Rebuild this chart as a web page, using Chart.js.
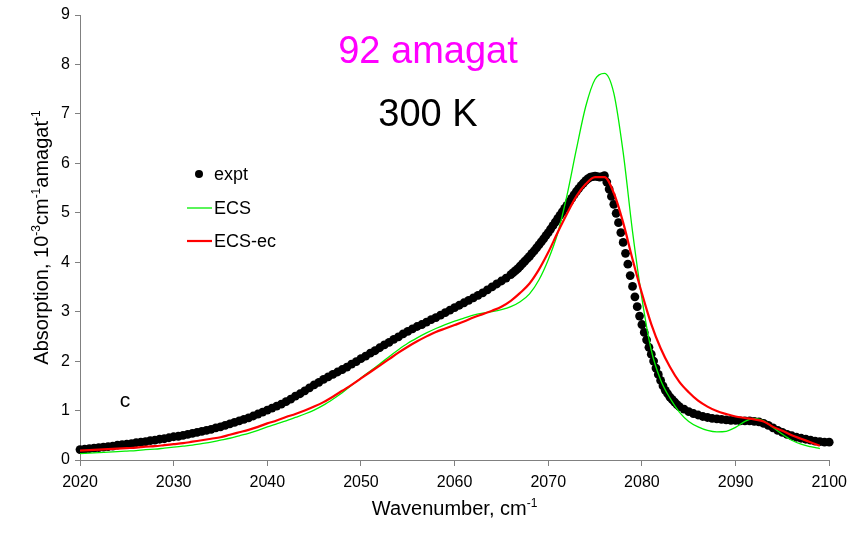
<!DOCTYPE html>
<html>
<head>
<meta charset="utf-8">
<title>Absorption, 92 amagat, 300 K</title>
<script src="https://cdn.jsdelivr.net/npm/chart.js@4.4.0/dist/chart.umd.min.js"></script>
<style>
    html, body { margin: 0; padding: 0; background: #fff; }
    #wrap { width: 854px; height: 533px; }
</style>
</head>
<body>
<div id="wrap"><canvas id="absChart" width="854" height="533"></canvas></div>
<script>
// measured spectrum (wavenumber, cm-1)
const exptWave = [
    2020, 2020.5, 2021, 2021.5, 2022, 2022.5, 2023, 2023.5, 2024, 2024.5,
    2025, 2025.5, 2026, 2026.5, 2027, 2027.5, 2028, 2028.5, 2029, 2029.5,
    2030, 2030.5, 2031, 2031.5, 2032, 2032.5, 2033, 2033.5, 2034, 2034.5,
    2035, 2035.5, 2036, 2036.5, 2037, 2037.5, 2038, 2038.5, 2039, 2039.5,
    2040, 2040.5, 2041, 2041.5, 2042, 2042.5, 2043, 2043.5, 2044, 2044.5,
    2045, 2045.5, 2046, 2046.5, 2047, 2047.5, 2048, 2048.5, 2049, 2049.5,
    2050, 2050.5, 2051, 2051.5, 2052, 2052.5, 2053, 2053.5, 2054, 2054.5,
    2055, 2055.5, 2056, 2056.5, 2057, 2057.5, 2058, 2058.5, 2059, 2059.5,
    2060, 2060.5, 2061, 2061.5, 2062, 2062.5, 2063, 2063.5, 2064, 2064.5,
    2065, 2065.5,
    2066, 2066.25, 2066.5, 2066.75, 2067, 2067.25, 2067.5, 2067.75,
    2068, 2068.25, 2068.5, 2068.75, 2069, 2069.25, 2069.5, 2069.75,
    2070, 2070.25, 2070.5, 2070.75, 2071, 2071.25, 2071.5, 2071.75,
    2072, 2072.25, 2072.5, 2072.75, 2073, 2073.25, 2073.5, 2073.75,
    2074, 2074.25, 2074.5, 2074.75, 2075, 2075.25, 2075.5, 2075.75,
    2076, 2076.25, 2076.5, 2076.75, 2077, 2077.25, 2077.5, 2077.75,
    2078, 2078.25, 2078.5, 2078.75, 2079, 2079.25, 2079.5, 2079.75,
    2080, 2080.25, 2080.5, 2080.75, 2081, 2081.25, 2081.5, 2081.75,
    2082, 2082.25, 2082.5, 2082.75, 2083, 2083.25, 2083.5, 2083.75,
    2084,
    2084.5, 2085, 2085.5, 2086, 2086.5, 2087, 2087.5, 2088, 2088.5, 2089,
    2089.5, 2090, 2090.5, 2091, 2091.5, 2092, 2092.5, 2093, 2093.5, 2094,
    2094.5, 2095, 2095.5, 2096, 2096.5, 2097, 2097.5, 2098, 2098.5, 2099,
    2099.5, 2100
];
const exptAbs = [
    0.21, 0.22, 0.23, 0.24, 0.25, 0.26, 0.27, 0.28, 0.30, 0.31,
    0.32, 0.33, 0.35, 0.36, 0.37, 0.39, 0.40, 0.42, 0.43, 0.45,
    0.47, 0.48, 0.50, 0.52, 0.54, 0.56, 0.58, 0.60, 0.62, 0.65,
    0.67, 0.70, 0.73, 0.76, 0.79, 0.82, 0.85, 0.89, 0.93, 0.97,
    1.01, 1.05, 1.09, 1.13, 1.18, 1.23, 1.29, 1.34, 1.40, 1.46,
    1.52, 1.57, 1.63, 1.68, 1.73, 1.78, 1.83, 1.88, 1.94, 1.99,
    2.05, 2.10, 2.16, 2.21, 2.27, 2.33, 2.38, 2.44, 2.49, 2.55,
    2.60, 2.65, 2.70, 2.74, 2.79, 2.84, 2.88, 2.93, 2.98, 3.03,
    3.08, 3.13, 3.18, 3.23, 3.28, 3.33, 3.38, 3.44, 3.50, 3.56,
    3.62, 3.68,
    3.75, 3.79, 3.83, 3.87, 3.92, 3.97, 4.02, 4.07,
    4.12, 4.18, 4.23, 4.29, 4.35, 4.41, 4.47, 4.54,
    4.60, 4.67, 4.74, 4.81, 4.88, 4.95, 5.02, 5.09,
    5.15, 5.22, 5.29, 5.36, 5.43, 5.49, 5.55, 5.60,
    5.65, 5.69, 5.72, 5.73, 5.74, 5.73, 5.72, 5.73,
    5.75, 5.62, 5.48, 5.33, 5.17, 4.99, 4.80, 4.60,
    4.40, 4.18, 3.96, 3.73, 3.51, 3.30, 3.10, 2.91,
    2.74, 2.58, 2.43, 2.28, 2.14, 2.00, 1.86, 1.73,
    1.61, 1.50, 1.41, 1.34, 1.27, 1.22, 1.17, 1.12,
    1.08,
    1.03, 0.98, 0.94, 0.91, 0.88, 0.86, 0.84, 0.83, 0.82, 0.81,
    0.80, 0.80, 0.79, 0.79, 0.79, 0.78, 0.77, 0.74, 0.70, 0.65,
    0.60, 0.56, 0.52, 0.49, 0.46, 0.44, 0.42, 0.40, 0.38, 0.37,
    0.36, 0.36
];

// calculated line shapes
const modelWave = [
    2020, 2021, 2022, 2023, 2024, 2025, 2026, 2027, 2028, 2029,
    2030, 2031, 2032, 2033, 2034, 2035, 2036, 2037, 2038, 2039,
    2040, 2041, 2042, 2043, 2044, 2045, 2046, 2047, 2048, 2049,
    2050, 2051, 2052, 2053, 2054, 2055, 2056, 2057, 2058, 2059,
    2060, 2061, 2062, 2063, 2064, 2065, 2066, 2067, 2068, 2069,
    2070, 2071, 2072, 2073, 2074, 2075, 2076, 2077, 2078, 2079,
    2080, 2081, 2082, 2083, 2084, 2085, 2086, 2087, 2088, 2089,
    2090, 2091, 2092, 2093, 2094, 2095, 2096, 2097, 2098, 2099
];
const ecsAbs = [
    0.13, 0.14, 0.15, 0.16, 0.17, 0.18, 0.19, 0.21, 0.22, 0.24,
    0.26, 0.28, 0.30, 0.33, 0.36, 0.40, 0.44, 0.49, 0.54, 0.60,
    0.67, 0.73, 0.79, 0.86, 0.93, 1.01, 1.11, 1.23, 1.36, 1.51,
    1.66, 1.80, 1.94, 2.09, 2.23, 2.36, 2.47, 2.57, 2.66, 2.74,
    2.81, 2.87, 2.93, 2.97, 3.00, 3.04, 3.10, 3.20, 3.36, 3.64,
    4.05, 4.58, 5.35, 6.28, 7.15, 7.70, 7.82, 7.42, 6.22, 4.62,
    3.27, 2.22, 1.62, 1.25, 0.97, 0.78, 0.67, 0.60, 0.57, 0.58,
    0.66, 0.78, 0.84, 0.79, 0.66, 0.52, 0.40, 0.32, 0.27, 0.23
];
const ecsEcAbs = [
    0.19, 0.20, 0.21, 0.22, 0.23, 0.24, 0.25, 0.27, 0.28, 0.30,
    0.32, 0.34, 0.37, 0.40, 0.43, 0.46, 0.51, 0.56, 0.61, 0.67,
    0.74, 0.80, 0.87, 0.93, 1.00, 1.08, 1.17, 1.28, 1.40, 1.52,
    1.65, 1.78, 1.91, 2.04, 2.17, 2.29, 2.40, 2.50, 2.59, 2.66,
    2.73, 2.80, 2.88, 2.95, 3.02, 3.10, 3.22, 3.38, 3.57, 3.85,
    4.20, 4.60, 4.98, 5.33, 5.58, 5.72, 5.72, 5.40, 4.80, 4.06,
    3.37, 2.75, 2.26, 1.88, 1.58, 1.37, 1.20, 1.08, 0.99, 0.93,
    0.88, 0.85, 0.82, 0.78, 0.67, 0.59, 0.50, 0.43, 0.36, 0.29
];

const xTickValues = [2020, 2030, 2040, 2050, 2060, 2070, 2080, 2090, 2100];
const yTickValues = [0, 1, 2, 3, 4, 5, 6, 7, 8, 9];

const FONT = "'Liberation Sans', Arial, sans-serif";
const AXIS_GREY = '#808080';

function toPoints(xs, ys) {
    return xs.map((x, i) => ({x: x, y: ys[i]}));
}

// text with raised exponents, centred on x
function drawRich(ctx, parts, x, y, size) {
    const supSize = Math.round(size * 0.62);
    let total = 0;
    parts.forEach(p => {
        ctx.font = (p[1] ? supSize : size) + 'px ' + FONT;
        total += ctx.measureText(p[0]).width;
    });
    let cx = x - total / 2;
    ctx.textAlign = 'left';
    ctx.textBaseline = 'alphabetic';
    parts.forEach(p => {
        ctx.font = (p[1] ? supSize : size) + 'px ' + FONT;
        ctx.fillText(p[0], cx, p[1] ? y - size * 0.42 : y);
        cx += ctx.measureText(p[0]).width;
    });
}

const labelsPlugin = {
    id: 'panelLabels',
    afterDraw(chart) {
        const ctx = chart.ctx;
        const area = chart.chartArea;
        const midX = (area.left + area.right) / 2;
        const midY = (area.top + area.bottom) / 2;
        ctx.save();
        ctx.fillStyle = '#000';

        // axis titles
        drawRich(ctx, [['Wavenumber, cm', false], ['-1', true]], midX, 515, 20);
        ctx.save();
        ctx.translate(48, midY);
        ctx.rotate(-Math.PI / 2);
        drawRich(ctx, [
            ['Absorption, 10', false], ['-3', true],
            ['cm', false], ['-1', true],
            ['amagat', false], ['-1', true]
        ], 0, 0, 20);
        ctx.restore();

        // density / temperature headings
        ctx.textAlign = 'center';
        ctx.textBaseline = 'alphabetic';
        ctx.font = '38px ' + FONT;
        ctx.fillStyle = '#ff00ff';
        ctx.fillText('92 amagat', 428, 63);
        ctx.fillStyle = '#000';
        ctx.fillText('300 K', 428, 126);

        ctx.font = '21px ' + FONT;
        ctx.fillText('c', 125, 407);

        // legend
        const ds = chart.data.datasets;
        const rows = [174, 208, 241];
        ctx.font = '18px ' + FONT;
        ctx.textAlign = 'left';
        ctx.textBaseline = 'middle';
        ds.forEach((d, i) => {
            const y = rows[i];
            if (d.showLine === false) {
                ctx.fillStyle = d.backgroundColor;
                ctx.beginPath();
                ctx.arc(199, y, 4, 0, Math.PI * 2);
                ctx.fill();
            } else {
                ctx.strokeStyle = d.borderColor;
                ctx.lineWidth = d.borderWidth;
                ctx.beginPath();
                ctx.moveTo(187, y);
                ctx.lineTo(212, y);
                ctx.stroke();
            }
            ctx.fillStyle = '#000';
            ctx.fillText(d.label, 214, y + 1);
        });
        ctx.restore();
    }
};

const ctx = document.getElementById('absChart').getContext('2d');
new Chart(ctx, {
    type: 'line',
    data: {
        datasets: [
            {
                label: 'expt',
                data: toPoints(exptWave, exptAbs),
                showLine: false,
                pointRadius: 4.4,
                pointBorderWidth: 0,
                backgroundColor: '#000000',
                pointBackgroundColor: '#000000',
                order: 3
            },
            {
                label: 'ECS',
                data: toPoints(modelWave, ecsAbs),
                borderColor: '#00ee00',
                borderWidth: 1.3,
                pointRadius: 0,
                cubicInterpolationMode: 'monotone',
                fill: false,
                order: 2
            },
            {
                label: 'ECS-ec',
                data: toPoints(modelWave, ecsEcAbs),
                borderColor: '#ff0000',
                borderWidth: 2.2,
                pointRadius: 0,
                cubicInterpolationMode: 'monotone',
                fill: false,
                order: 1
            }
        ]
    },
    options: {
        responsive: false,
        animation: false,
        clip: false,
        layout: {padding: {left: 25, right: 21, top: 15, bottom: 0}},
        plugins: {
            legend: {display: false},
            tooltip: {enabled: false}
        },
        scales: {
            x: {
                type: 'linear',
                min: 2020,
                max: 2100,
                afterBuildTicks: scale => { scale.ticks = xTickValues.map(v => ({value: v})); },
                afterFit: scale => { scale.height = 73; },
                grid: {display: true, drawOnChartArea: false, drawTicks: true, tickLength: 6, color: AXIS_GREY},
                border: {display: true, color: AXIS_GREY, width: 1},
                ticks: {
                    color: '#000',
                    padding: 7,
                    maxRotation: 0,
                    font: {family: FONT, size: 16},
                    callback: v => String(v)
                }
            },
            y: {
                type: 'linear',
                min: 0,
                max: 9,
                afterBuildTicks: scale => { scale.ticks = yTickValues.map(v => ({value: v})); },
                afterFit: scale => { scale.width = 55; },
                grid: {display: true, drawOnChartArea: false, drawTicks: true, tickLength: 5, color: AXIS_GREY},
                border: {display: true, color: AXIS_GREY, width: 1},
                ticks: {
                    color: '#000',
                    padding: 5,
                    font: {family: FONT, size: 16},
                    callback: v => String(v)
                }
            }
        }
    },
    plugins: [labelsPlugin]
});
</script>
</body>
</html>
